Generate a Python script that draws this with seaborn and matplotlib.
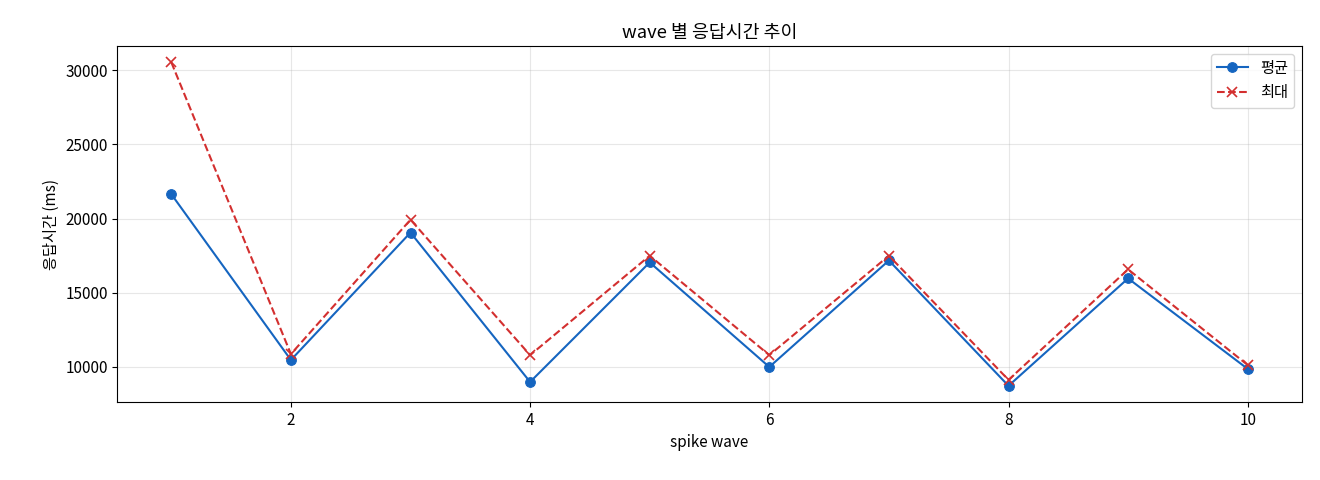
import matplotlib
matplotlib.use("Agg")
import matplotlib.pyplot as plt
import seaborn as sns
import pandas as pd

waves = [1, 2, 3, 4, 5, 6, 7, 8, 9, 10]
mean_ms = [21650, 10470, 19060, 8990, 17050, 10000, 17180, 8730, 15970, 9870]
max_ms = [30540, 10870, 19930, 10800, 17500, 10800, 17500, 9130, 16580, 10130]

plt.rcParams['font.family'] = ['Noto Sans CJK KR', 'DejaVu Sans']
plt.rcParams['font.size'] = 11
fig, ax = plt.subplots(figsize=(13.2, 4.8), dpi=100)
df = pd.DataFrame({"wave": waves, "mean": mean_ms, "max": max_ms})
sns.lineplot(data=df, x="wave", y="mean", ax=ax, color="#1565C0", marker="o",
             markersize=7, markeredgecolor="#1565C0", label="평균")
sns.lineplot(data=df, x="wave", y="max", ax=ax, color="#D32F2F", marker="x",
             linestyle="--", markersize=7, markeredgecolor="#D32F2F",
             markeredgewidth=1.2, label="최대")
ax.set_title("wave 별 응답시간 추이")
ax.set_xlabel("spike wave")
ax.set_ylabel("응답시간 (ms)")
ax.grid(True, alpha=0.3)
ax.legend(loc="upper right")
fig.subplots_adjust(left=0.089, right=0.986, top=0.904, bottom=0.1625)
fig.savefig("out.png")
